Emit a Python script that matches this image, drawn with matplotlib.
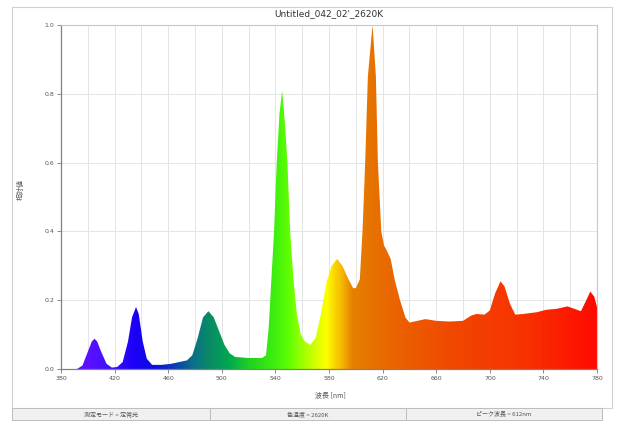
#!/usr/bin/env python3
"""Spectrum chart: relative intensity vs wavelength, fill coloured by wavelength."""
import numpy as np
import matplotlib
matplotlib.use('Agg')
import matplotlib.pyplot as plt
from matplotlib.colors import LinearSegmentedColormap
from matplotlib.patches import Polygon, Rectangle

plt.rcParams['font.family'] = ['DejaVu Sans', 'Noto Sans CJK JP']

TITLE = "Untitled_042_02'_2620K"
XLABEL = "波長 [nm]"
YLABEL = "相対値"
STATUS = ["測定モード = 定常光", "色温度 = 2620K", "ピーク波長 = 612nm"]

# spectrum (nm, relative value)
wavelength = [380, 392, 396, 400, 403, 405, 407, 410, 414, 418, 422, 426, 430, 433,
              436, 438, 441, 444, 448, 455, 462, 468, 474, 478, 482, 486, 490, 494,
              498, 502, 506, 510, 520, 530, 533, 535, 537, 539, 541, 543, 545, 547,
              549, 551, 553.5, 556, 559, 562, 566, 570, 574, 578, 582, 586, 590, 594,
              598, 600, 603, 605, 607, 609, 612.5, 615, 616.5, 619, 621, 623, 626, 629,
              633, 637, 640, 646, 652, 660, 670, 680, 686, 690, 696, 700, 704, 708,
              711, 715, 719, 725, 735, 742, 750, 758, 763, 768, 772, 775, 778, 780]
intensity = [0.0, 0.0, 0.01, 0.05, 0.08, 0.088, 0.08, 0.05, 0.015, 0.004, 0.006, 0.02, 0.08, 0.15,
             0.18, 0.16, 0.08, 0.03, 0.012, 0.012, 0.015, 0.02, 0.025, 0.04, 0.09, 0.15, 0.168, 0.15,
             0.11, 0.07, 0.045, 0.035, 0.032, 0.032, 0.04, 0.12, 0.26, 0.40, 0.60, 0.74, 0.81, 0.72,
             0.60, 0.40, 0.26, 0.16, 0.10, 0.08, 0.07, 0.09, 0.16, 0.25, 0.30, 0.32, 0.30, 0.265,
             0.235, 0.235, 0.26, 0.40, 0.60, 0.85, 1.0, 0.85, 0.60, 0.40, 0.36, 0.345, 0.32, 0.26,
             0.20, 0.15, 0.135, 0.14, 0.145, 0.14, 0.138, 0.14, 0.155, 0.16, 0.158, 0.17, 0.22, 0.255,
             0.24, 0.19, 0.158, 0.16, 0.165, 0.172, 0.175, 0.182, 0.175, 0.168, 0.2, 0.225, 0.21, 0.18]

# colour of the fill at each wavelength
color_nm = [380, 400, 415, 435, 450, 465, 478, 490, 505, 520, 540, 550, 565, 578,
            588, 598, 615, 640, 680, 730, 780]
color_hex = ['#6a00ff', '#5a10ff', '#4010ff', '#1a00f5', '#0a10e0', '#0a40b0', '#0a7088',
             '#0a8a68', '#00a850', '#20d020', '#40f010', '#60ff00', '#b8ff00', '#ffff00',
             '#f8c000', '#e48000', '#e87000', '#ec5c00', '#f24400', '#f83000', '#ff0a00']

W, H = 617, 421
fig = plt.figure(figsize=(W / 100, H / 100), dpi=100)
fig.patch.set_facecolor('white')

# outer panel frame and status bar
fig.patches.append(Rectangle((12 / W, 1 - 408 / H), 600 / W, 401 / H, transform=fig.transFigure,
                             facecolor='none', edgecolor='#cfcfcf', lw=0.8, zorder=0))
cells = [(12, 210), (210, 406), (406, 602)]
for (x0, x1), txt in zip(cells, STATUS):
    fig.patches.append(Rectangle((x0 / W, 1 - 420 / H), (x1 - x0) / W, 12 / H,
                                 transform=fig.transFigure, facecolor='#f0f0f0',
                                 edgecolor='#bdbdbd', lw=0.7, zorder=1))
    fig.text((x0 + x1) / 2 / W, 1 - 414 / H, txt, ha='center', va='center', fontsize=4.3,
             color='#555555', family=['Noto Sans CJK JP', 'DejaVu Sans'])

ax = fig.add_axes([61 / W, 1 - 369 / H, 536 / W, 344 / H])
ax.set_zorder(2)
ax.set_xlim(380, 780)
ax.set_ylim(0, 1.0)

cmap = LinearSegmentedColormap.from_list(
    'spec', [((n - 380) / 400, c) for n, c in zip(color_nm, color_hex)])
grad = np.linspace(0, 1, 800).reshape(1, -1)
img = ax.imshow(grad, cmap=cmap, aspect='auto', extent=[380, 780, 0, 1.0],
                origin='lower', zorder=2, interpolation='bilinear')
verts = np.column_stack([np.r_[wavelength, wavelength[::-1]],
                         np.r_[intensity, np.zeros(len(intensity))]])
poly = Polygon(verts, closed=True, facecolor='none', edgecolor='none', transform=ax.transData)
ax.add_patch(poly)
img.set_clip_path(poly)

ax.set_xticks(np.arange(380, 781, 40))
ax.set_xticks(np.arange(380, 781, 20), minor=True)
ax.set_yticks(np.arange(0, 1.01, 0.2))
ax.xaxis.set_major_formatter(matplotlib.ticker.FormatStrFormatter('%d'))
ax.yaxis.set_major_formatter(matplotlib.ticker.FormatStrFormatter('%.1f'))
ax.grid(True, which='both', axis='x', color='#e4e4e4', lw=0.7, zorder=0)
ax.grid(True, which='major', axis='y', color='#e4e4e4', lw=0.7, zorder=0)
ax.set_axisbelow(True)
ax.tick_params(which='major', length=3, width=0.6, color='#777777', labelsize=4.5,
               labelcolor='#555555', pad=2)
ax.tick_params(which='minor', length=0)
for side in ['left', 'bottom']:
    ax.spines[side].set_color('#808080')
    ax.spines[side].set_linewidth(0.9)
for side in ['top', 'right']:
    ax.spines[side].set_color('#c8c8c8')
    ax.spines[side].set_linewidth(0.8)

fig.text(329 / W, 1 - 14 / H, TITLE, ha='center', va='center', fontsize=6.5, color='#333333')
fig.text(330 / W, 1 - 395 / H, XLABEL, ha='center', va='center', fontsize=5,
         color='#555555', family=['Noto Sans CJK JP', 'DejaVu Sans'])
fig.text(21 / W, 1 - 190 / H, YLABEL, ha='center', va='center', fontsize=5, rotation=90,
         color='#555555', family=['Noto Sans CJK JP', 'DejaVu Sans'])

plt.savefig('out.png', dpi=100)
plt.close()
